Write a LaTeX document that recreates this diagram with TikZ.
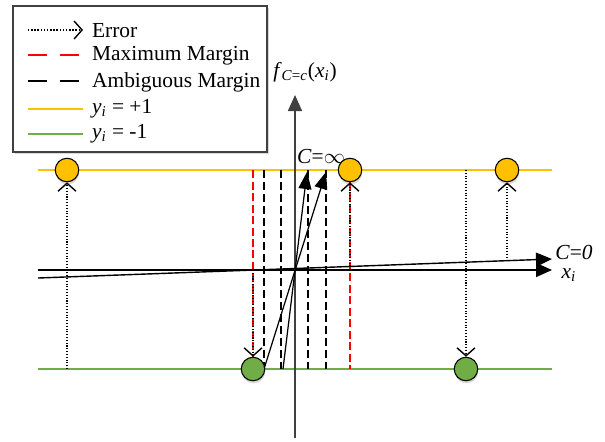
\documentclass[tikz,border=0pt]{standalone}
\usepackage{fontspec}
\setmainfont{Liberation Serif}
\usetikzlibrary{arrows.meta,shadows}
\definecolor{PosYellow}{HTML}{FFC000}
\definecolor{NegGreen}{HTML}{70AD47}
\definecolor{MarginRed}{HTML}{FF0000}
\definecolor{AxisGray}{HTML}{404040}

\begin{document}
\begin{tikzpicture}[x=0.02cm,y=-0.02cm,
  font=\fontsize{12.2}{14}\selectfont,
  axis/.style={-{Triangle[length=0.32cm,width=0.28cm]},draw=AxisGray,line width=0.8pt},
  sol/.style={-{Triangle[length=0.34cm,width=0.26cm]},line width=0.7pt},
  err/.style={-{Straight Barb[length=0.16cm,width=0.36cm,line width=0.8pt]},densely dotted,line width=0.6pt},
  maxm/.style={draw=MarginRed,dash pattern=on 0.16cm off 0.07cm,line width=0.7pt},
  ambm/.style={draw=black,dash pattern=on 0.16cm off 0.08cm,line width=0.7pt},
  posdot/.style={circle,draw,fill=PosYellow,minimum size=0.47cm,inner sep=0pt,line width=0.6pt,
    drop shadow={opacity=0.3,shadow xshift=0.3pt,shadow yshift=-1.5pt}},
  negdot/.style={posdot,fill=NegGreen},
  key/.style={anchor=west,inner sep=1pt},
  legendbox/.style={draw=AxisGray,fill=white,line width=0.8pt,minimum width=5.08cm,minimum height=2.92cm,
    drop shadow={opacity=0.3,shadow xshift=1.2pt,shadow yshift=-1.2pt}}
]
\useasboundingbox (0,0) rectangle (605,441);

% class lines
\draw[PosYellow,line width=0.8pt] (38,170) -- (552,170);
\draw[NegGreen,line width=0.8pt] (38,369) -- (552,369);

% margins
\foreach \mx in {253,350}
  \draw[maxm] (\mx,170) -- (\mx,369);
\foreach \mx in {264,281,308,326}
  \draw[ambm] (\mx,170) -- (\mx,369);

% axes
\coordinate (yb) at (295,438);
\coordinate (yt) at (295,95);
\coordinate (xl) at (38,270);
\coordinate (xr) at (552,270);
\coordinate (cl) at (38,278);
\coordinate (cr) at (552,259);
\draw[axis] (yb) -- (yt);
\draw[axis,draw=black] (xl) -- (xr);
\draw[axis,draw=black] (cl) -- (cr);
\node (flabel) at (305,72) {\textit{f}\textsubscript{\textit{C}=\textit{c}}(\textit{x}\textsubscript{\textit{i}})};
\node (xlabel) at (569,275) {\textit{x}\textsubscript{\textit{i}}};
\node (c0label) at (574,252) {\textit{C}=\textit{0}};

% C = infinity
\coordinate (a1) at (283,369);
\coordinate (a2) at (264,369);
\coordinate (b1) at (307,172);
\coordinate (b2) at (326,172);
\draw[sol] (a1) -- (b1);
\draw[sol] (a2) -- (b2);
\node (cinf) at (321,156) {\textit{C}=$\infty$};

% samples
\node[posdot] (p1) at (67,170) {};
\node[posdot] (p2) at (350,170) {};
\node[posdot] (p3) at (507,170) {};
\node[negdot] (n1) at (253,369) {};
\node[negdot] (n2) at (466,369) {};

% errors
\coordinate (e1) at (67,369);
\coordinate (e2) at (350,266.5);
\coordinate (e3) at (507,260.7);
\coordinate (e4) at (466,170);
\coordinate (e5) at (253,270);
\draw[err] (e1) -- (p1);
\draw[err] (e2) -- (p2);
\draw[err] (e3) -- (p3);
\draw[err] (e4) -- (n2);
\draw[err] (e5) -- (n1);

% legend
\node[legendbox] (legend) at (140,79) {};
\coordinate (k1a) at (28,30);  \coordinate (k1b) at (83,30);
\coordinate (k2a) at (28,55);  \coordinate (k2b) at (81,55);
\coordinate (k3a) at (28,81);  \coordinate (k3b) at (81,81);
\coordinate (k4a) at (28,109); \coordinate (k4b) at (83,109);
\coordinate (k5a) at (28,134); \coordinate (k5b) at (83,134);
\draw[err,line width=0.8pt] (k1a) -- (k1b);
\draw[maxm,line width=1pt,dash pattern=on 0.38cm off 0.26cm] (k2a) -- (k2b);
\draw[ambm,line width=1pt,dash pattern=on 0.38cm off 0.26cm] (k3a) -- (k3b);
\draw[PosYellow,line width=1pt] (k4a) -- (k4b);
\draw[NegGreen,line width=1pt] (k5a) -- (k5b);
\node[key] (t1) at (90,31) {Error};
\node[key] (t2) at (90,56) {Maximum Margin};
\node[key] (t3) at (90,82) {Ambiguous Margin};
\node[key] (t4) at (90,109) {\textit{y}\textsubscript{\textit{i}} = +1};
\node[key] (t5) at (90,134) {\textit{y}\textsubscript{\textit{i}} = -1};
\end{tikzpicture}
\end{document}
